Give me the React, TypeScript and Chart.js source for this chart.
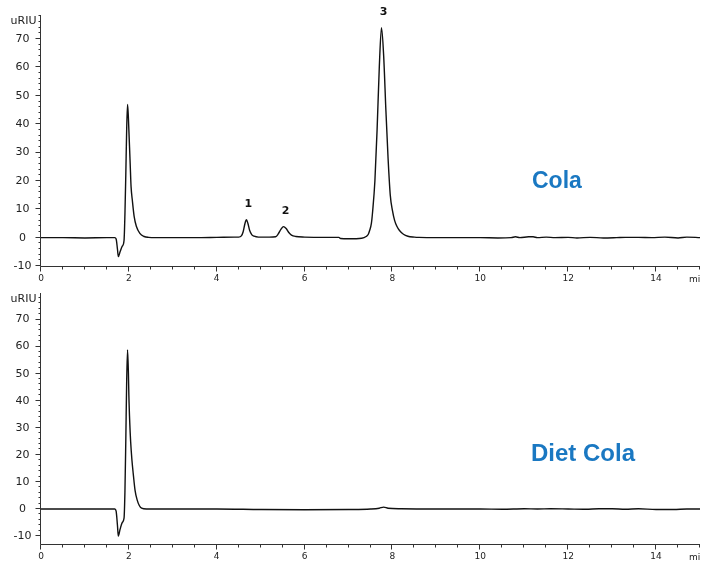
import React, { useEffect, useRef } from 'react';
import { Chart, registerables } from 'chart.js';

Chart.register(...registerables);

// ---------- data (minutes, uRIU) ----------
const colaTime = [
  0, 0.5, 1.0, 1.5, 1.68, 1.71, 1.74, 1.76, 1.8, 1.85, 1.89, 1.91, 1.93, 1.95, 1.97, 1.99,
  2.0, 2.03, 2.05, 2.08, 2.12, 2.17, 2.25, 2.35, 2.45, 2.6, 3.0, 3.5, 4.0, 4.4, 4.5, 4.56,
  4.6, 4.64, 4.675, 4.71, 4.75, 4.8, 4.85, 4.95, 5.2, 5.34, 5.4, 5.46, 5.52, 5.58, 5.64, 5.7,
  5.8, 6.0, 6.5, 6.78, 6.82, 7.0, 7.3, 7.4, 7.45, 7.48, 7.52, 7.55, 7.6, 7.65, 7.7, 7.75,
  7.8, 7.85, 7.9, 7.95, 8.0, 8.05, 8.1, 8.16, 8.25, 8.35, 8.5, 8.6, 9.0, 9.5, 10.0, 10.4,
  10.7, 10.8, 10.9, 11.1, 11.2, 11.3, 11.5, 11.7, 12.0, 12.2, 12.5, 12.8, 13.1, 13.3, 13.6,
  13.9, 14.2, 14.5, 14.7, 15.0,
];
const colaSignal = [
  0, 0, -0.1, 0, 0, -0.5, -4, -6.7, -5, -3, -1, 8, 22, 38, 47, 42,
  38, 26, 18, 13, 7.5, 4, 1.5, 0.4, 0.1, 0, 0, 0, 0.1, 0.2, 0.2, 0.6,
  2, 4.8, 6.3, 5, 2.5, 1.0, 0.5, 0.2, 0.2, 0.3, 1.3, 2.9, 3.9, 3.2, 1.8, 0.9,
  0.4, 0.2, 0.1, 0.1, -0.3, -0.4, -0.2, 0.4, 1.2, 2.5, 5, 9.5, 20, 38, 60, 74,
  64, 45, 28, 15, 9.5, 6, 4, 2.5, 1.2, 0.5, 0.2, 0.1, 0, 0, 0, -0.1,
  0, 0.3, 0, 0.3, 0.3, 0, 0.2, 0, 0.1, -0.1, 0.1, -0.1, 0, 0.1, 0.1,
  0, 0.2, -0.1, 0.2, 0,
];

const dietTime = [
  0, 0.5, 1.0, 1.5, 1.68, 1.71, 1.74, 1.76, 1.8, 1.85, 1.89, 1.91, 1.93, 1.95, 1.97, 1.99,
  2.0, 2.02, 2.04, 2.07, 2.1, 2.14, 2.19, 2.24, 2.29, 2.4, 3.0, 4.0, 5.0, 6.0, 7.0, 7.5,
  7.7, 7.8, 7.9, 8.2, 9.0, 10.0, 10.5, 11.0, 11.3, 11.6, 12.0, 12.4, 12.7, 13.0, 13.3, 13.6,
  14.0, 14.4, 14.7, 15.0,
];
const dietSignal = [
  0, 0, 0, 0, 0, -0.8, -6, -10, -7.5, -5, -3.4, 6, 25, 47, 58.8, 50,
  42, 32, 25, 18, 13, 7, 3.3, 1.2, 0.3, 0, 0, 0, -0.2, -0.3, -0.2, 0,
  0.3, 0.7, 0.3, 0.1, 0, 0, -0.1, 0.1, 0, 0.1, 0, -0.1, 0.1, 0.1, -0.1, 0.1,
  -0.2, -0.2, 0, 0,
];

const peakLabels = ['1', '2', '3'];
const peakTimes = [4.675, 5.52, 7.75];
const peakHeights = [6.3, 3.9, 74];

const X_MIN = 0;
const X_MAX = 15;
const X_STEP = 2;
const Y_STEP = 10;
const Y_UNIT = 'uRIU';
const X_UNIT = 'mi';

const decorPlugin = {
  id: 'decor',
  afterDraw(chart: any, _args: any, opts: any) {
    const { ctx, chartArea: a, scales } = chart;
    const x = scales.x;
    const y = scales.y;
    ctx.save();
    ctx.strokeStyle = '#333';
    ctx.lineWidth = 1;
    ctx.beginPath();
    const axX = Math.round(a.left) - 0.5;
    const axY = Math.round(a.bottom) - 0.5;
    ctx.moveTo(axX, a.top);
    ctx.lineTo(axX, axY);
    ctx.lineTo(a.right, axY);
    for (let v = X_MIN; v <= X_MAX + 1e-6; v += 0.5) {
      const px = Math.round(x.getPixelForValue(v)) - 0.5;
      const major = Math.abs(v % X_STEP) < 1e-6;
      ctx.moveTo(px, axY);
      ctx.lineTo(px, axY + (major ? 5 : 3));
    }
    for (let v = -10; v <= y.max + 1e-6; v += 2) {
      const py = Math.round(y.getPixelForValue(v)) - 0.5;
      const major = Math.abs(v % Y_STEP) < 1e-6;
      ctx.moveTo(axX, py);
      ctx.lineTo(axX - (major ? 5 : 2), py);
    }
    ctx.stroke();

    ctx.fillStyle = '#222';
    ctx.textBaseline = 'middle';
    ctx.font = '11px "DejaVu Sans"';
    ctx.textAlign = 'center';
    y.ticks.forEach((t: any) => {
      ctx.fillText(String(t.value), 22.5, y.getPixelForValue(t.value));
    });
    ctx.font = '9px "DejaVu Sans"';
    x.ticks.forEach((t: any) => {
      ctx.fillText(String(t.value), x.getPixelForValue(t.value), a.bottom + 12);
    });

    ctx.font = '11px "DejaVu Sans"';
    ctx.textAlign = 'right';
    ctx.fillText(Y_UNIT, 36.5, a.top + 6);
    ctx.font = '9px "DejaVu Sans"';
    ctx.textAlign = 'left';
    ctx.fillText(X_UNIT, 689, a.bottom + 13);

    if (opts.peaks) {
      ctx.font = 'bold 11px "DejaVu Sans"';
      ctx.textAlign = 'center';
      ctx.fillStyle = '#111';
      peakLabels.forEach((lab, i) => {
        const px = x.getPixelForValue(peakTimes[i]) + 2;
        const py = y.getPixelForValue(peakHeights[i]) - 15.5;
        ctx.fillText(lab, px, py);
      });
    }

    ctx.font = `bold ${opts.titleSize}px "Liberation Sans", Arial, sans-serif`;
    ctx.fillStyle = '#1a78c2';
    ctx.textAlign = 'left';
    ctx.textBaseline = 'alphabetic';
    ctx.fillText(opts.title, opts.titleX, opts.titleY);
    ctx.restore();
  },
};

function makeConfig(
  time: number[],
  signal: number[],
  yMin: number,
  yMax: number,
  padTop: number,
  title: string,
  titleX: number,
  titleY: number,
  titleSize: number,
  peaks: boolean
): any {
  return {
    type: 'line',
    data: {
      datasets: [
        {
          data: time.map((t, i) => ({ x: t, y: signal[i] })),
          borderColor: '#111',
          borderWidth: 1.4,
          pointRadius: 0,
          cubicInterpolationMode: 'monotone',
          fill: false,
        },
      ],
    },
    options: {
      responsive: false,
      animation: false,
      devicePixelRatio: 1,
      layout: { padding: { top: padTop, right: 1, left: 0, bottom: 0 } },
      plugins: {
        legend: { display: false },
        tooltip: { enabled: false },
        decor: { title, titleX, titleY, titleSize, peaks },
      },
      scales: {
        x: {
          type: 'linear',
          min: X_MIN,
          max: X_MAX,
          grid: { display: false },
          border: { display: false },
          ticks: { display: false, stepSize: X_STEP, includeBounds: false },
          afterFit: (s: any) => {
            s.height = 18;
          },
        },
        y: {
          type: 'linear',
          min: yMin,
          max: yMax,
          grid: { display: false },
          border: { display: false },
          ticks: { display: false, stepSize: Y_STEP, includeBounds: false },
          afterFit: (s: any) => {
            s.width = 41;
          },
        },
      },
    },
    plugins: [decorPlugin],
  };
}

export default function App() {
  const topRef = useRef<HTMLCanvasElement>(null);
  const botRef = useRef<HTMLCanvasElement>(null);

  useEffect(() => {
    const c1 = new Chart(
      topRef.current as HTMLCanvasElement,
      makeConfig(colaTime, colaSignal, -10.35, 78.5, 15, 'Cola', 532, 188, 23, true)
    );
    const c2 = new Chart(
      botRef.current as HTMLCanvasElement,
      makeConfig(dietTime, dietSignal, -13.3, 79.8, 8, 'Diet Cola', 531, 176, 24, false)
    );
    return () => {
      c1.destroy();
      c2.destroy();
    };
  }, []);

  return (
    <div style={{ position: 'absolute', left: 0, top: 0, width: 701, height: 563, background: '#fff' }}>
      <canvas
        ref={topRef}
        width={701}
        height={285}
        style={{ position: 'absolute', left: 0, top: 0, width: 701, height: 285 }}
      />
      <canvas
        ref={botRef}
        width={701}
        height={278}
        style={{ position: 'absolute', left: 0, top: 285, width: 701, height: 278 }}
      />
    </div>
  );
}
